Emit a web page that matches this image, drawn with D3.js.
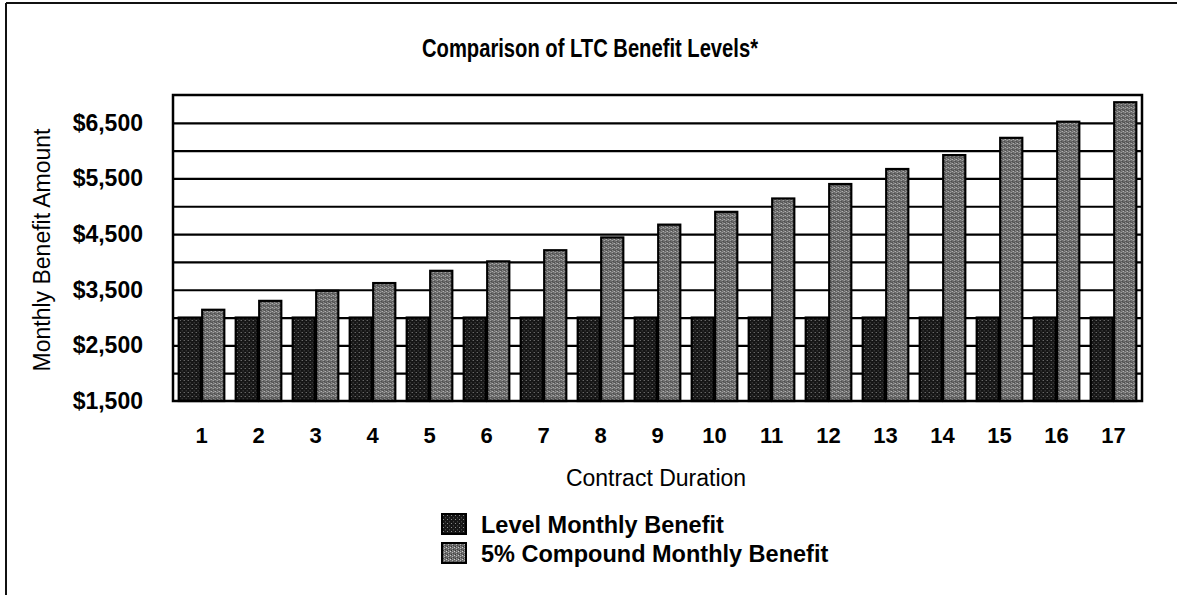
<!DOCTYPE html>
<html>
<head>
<meta charset="utf-8">
<script src="https://cdn.jsdelivr.net/npm/d3@7"></script>
<style>
  html, body { margin: 0; padding: 0; background: #fff; overflow: hidden; }
  svg { display: block; }
  text { font-family: 'Liberation Sans', Arial, sans-serif; fill: #000; }
</style>
</head>
<body>
<div id="chart"></div>
<script>
// values
const years = ['1', '2', '3', '4', '5', '6', '7', '8', '9', '10', '11', '12', '13', '14', '15', '16', '17'];
const levelBenefit = [3000, 3000, 3000, 3000, 3000, 3000, 3000, 3000, 3000, 3000, 3000, 3000, 3000, 3000, 3000, 3000, 3000];
const compoundBenefit = [3140, 3300, 3480, 3620, 3840, 4010, 4210, 4440, 4670, 4900, 5140, 5400, 5670, 5920, 6230, 6520, 6870];
const seriesNames = ['Level Monthly Benefit', '5% Compound Monthly Benefit'];
const yTickLabels = [1500, 2500, 3500, 4500, 5500, 6500];
const gridValues = [2000, 2500, 3000, 3500, 4000, 4500, 5000, 5500, 6000, 6500];

const W = 1177;
const H = 595;
const margin = { top: 95, right: 35, bottom: 194, left: 173 };
const width = W - margin.left - margin.right;
const height = H - margin.top - margin.bottom;

const svg = d3.select('#chart').append('svg')
  .attr('width', W)
  .attr('height', H);

// speckled fills, like the scanned hatching
const defs = svg.append('defs');
function speckle(id, base, dots) {
  const p = defs.append('pattern')
    .attr('id', id)
    .attr('patternUnits', 'userSpaceOnUse')
    .attr('width', 4)
    .attr('height', 4);
  p.append('rect').attr('width', 4).attr('height', 4).attr('fill', base);
  dots.forEach((d) => {
    p.append('rect').attr('x', d[0]).attr('y', d[1]).attr('width', 1).attr('height', 1).attr('fill', d[2]);
  });
}
speckle('levelFill', '#161616', [[1, 1, '#8a8a8a'], [3, 3, '#404040'], [3, 0, '#2a2a2a']]);
speckle('compFill', '#6a6a6a', [[0, 0, '#cfcfcf'], [2, 1, '#b8b8b8'], [1, 3, '#333'], [3, 2, '#444'], [2, 3, '#9a9a9a']]);
const fills = ['url(#levelFill)', 'url(#compFill)'];

// outer frame: only the top and left edges show
svg.append('line')
  .attr('x1', 6).attr('y1', 3).attr('x2', W).attr('y2', 3)
  .attr('stroke', '#111')
  .attr('stroke-width', 2);
svg.append('line')
  .attr('x1', 6).attr('y1', 3).attr('x2', 6).attr('y2', H)
  .attr('stroke', '#111')
  .attr('stroke-width', 2);

// title
svg.append('text')
  .attr('x', 590)
  .attr('y', 57)
  .attr('text-anchor', 'middle')
  .attr('textLength', 336)
  .attr('lengthAdjust', 'spacingAndGlyphs')
  .style('font-family', "'Liberation Sans Narrow', 'Arial Narrow', 'Liberation Sans', sans-serif")
  .style('font-size', '26px')
  .style('font-weight', 'bold')
  .text('Comparison of LTC Benefit Levels*');

const g = svg.append('g')
  .attr('transform', `translate(${margin.left},${margin.top})`);

const x0 = d3.scaleBand()
  .domain(years)
  .range([0, width])
  .paddingInner(0.2)
  .paddingOuter(0.1);

const x1 = d3.scaleBand()
  .domain([0, 1])
  .range([0, x0.bandwidth()])
  .paddingInner(0.06);

const y = d3.scaleLinear()
  .domain([1500, 7000])
  .range([height, 0]);

// horizontal grid
g.append('g')
  .attr('class', 'grid')
  .call(d3.axisLeft(y).tickValues(gridValues).tickSize(-width).tickFormat(''))
  .call(s => s.select('.domain').remove())
  .call(s => s.selectAll('line').attr('stroke', '#000').attr('stroke-width', 2.2));

// bars
const rows = years.map((yr, i) => ({ yr, vals: [levelBenefit[i], compoundBenefit[i]] }));
const groups = g.selectAll('g.group')
  .data(rows)
  .enter().append('g')
  .attr('class', 'group')
  .attr('transform', d => `translate(${x0(d.yr)},0)`);

groups.selectAll('rect')
  .data(d => d.vals.map((v, k) => ({ k, v })))
  .enter().append('rect')
  .attr('x', d => x1(d.k))
  .attr('y', d => y(d.v))
  .attr('width', x1.bandwidth())
  .attr('height', d => y(1500) - y(d.v))
  .attr('fill', d => fills[d.k])
  .attr('stroke', '#000')
  .attr('stroke-width', 2.2);

// plot frame
g.append('rect')
  .attr('width', width)
  .attr('height', height)
  .attr('fill', 'none')
  .attr('stroke', '#000')
  .attr('stroke-width', 2.5);

// y axis labels
g.append('g')
  .call(d3.axisLeft(y).tickValues(yTickLabels).tickSize(0).tickPadding(30).tickFormat(d3.format('$,')))
  .call(s => s.select('.domain').remove())
  .call(s => s.selectAll('text')
    .style('font-family', "'Liberation Sans', Arial, sans-serif")
    .style('font-size', '23px')
    .style('font-weight', 'bold')
    .attr('fill', '#000'));

// x axis labels
g.append('g')
  .attr('transform', `translate(0,${height})`)
  .call(d3.axisBottom(x0).tickSize(0).tickPadding(26))
  .call(s => s.select('.domain').remove())
  .call(s => s.selectAll('text')
    .style('font-family', "'Liberation Sans', Arial, sans-serif")
    .style('font-size', '22px')
    .style('font-weight', 'bold')
    .attr('fill', '#000'));

// axis titles
svg.append('text')
  .attr('transform', 'translate(50,250) rotate(-90)')
  .attr('text-anchor', 'middle')
  .style('font-size', '23px')
  .text('Monthly Benefit Amount');

svg.append('text')
  .attr('x', 656)
  .attr('y', 486)
  .attr('text-anchor', 'middle')
  .style('font-size', '23px')
  .text('Contract Duration');

// legend
const legend = svg.append('g')
  .attr('transform', 'translate(442,514)');

const item = legend.selectAll('g')
  .data(seriesNames)
  .enter().append('g')
  .attr('transform', (d, i) => `translate(0,${i * 29})`);

item.append('rect')
  .attr('width', 24)
  .attr('height', 20)
  .attr('fill', (d, i) => fills[i])
  .attr('stroke', '#000')
  .attr('stroke-width', 2);

item.append('text')
  .attr('x', 39)
  .attr('y', 19)
  .style('font-size', '23.5px')
  .style('font-weight', 'bold')
  .text(d => d);
</script>
</body>
</html>
